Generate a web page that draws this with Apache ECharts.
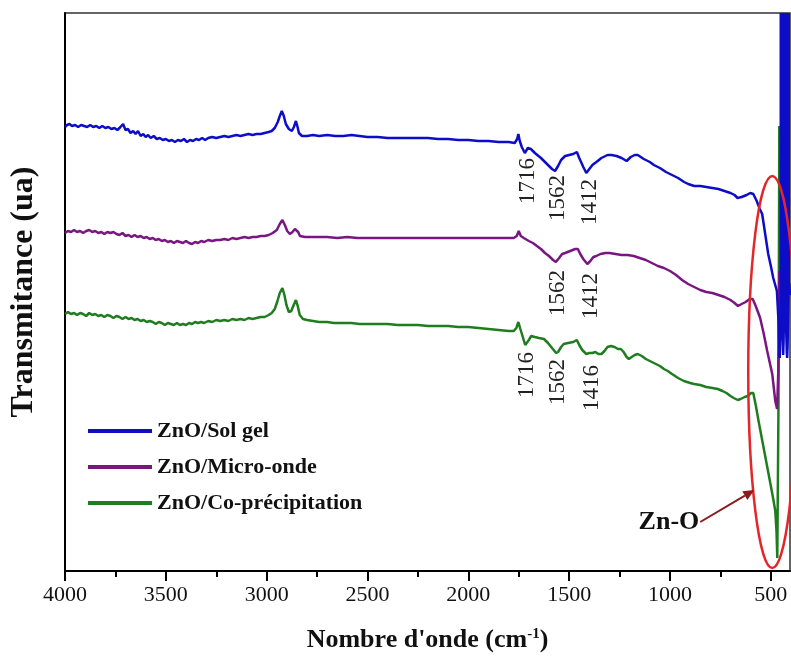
<!DOCTYPE html>
<html><head><meta charset="utf-8">
<script src="https://cdn.jsdelivr.net/npm/echarts@6/dist/echarts.min.js"></script>
<style>html,body{margin:0;padding:0;background:#fff}#c{width:791px;height:662px}</style>
</head><body><div id="c"></div>
<script>
const FONT = "'Liberation Serif', 'Times New Roman', serif";
const seriesNames = ['ZnO/Sol gel', 'ZnO/Micro-onde', 'ZnO/Co-précipitation'];
const seriesColors = ['#0d0dc8', '#7a1682', '#1f7d1f'];
const majorTicks = [4000, 3500, 3000, 2500, 2000, 1500, 1000, 500];
const minorTicks = [3750, 3250, 2750, 2250, 1750, 1250, 750];

const solGel = [[4000,444],[3990,446],[3978,447],[3965,445],[3950,446],[3935,444],[3920,446],[3905,445],[3890,444],[3875,446],[3860,444],[3845,445],[3830,443],[3815,445],[3800,443],[3785,444],[3770,442],[3755,443],[3740,441],[3725,444],[3712,447],[3700,441],[3688,442],[3675,438],[3662,440],[3650,437],[3638,440],[3625,435],[3612,437],[3600,434],[3588,436],[3575,433],[3560,435],[3545,432],[3530,433],[3515,431],[3500,432],[3485,430],[3470,431],[3455,429],[3440,431],[3425,430],[3410,432],[3395,429],[3380,431],[3365,430],[3350,432],[3335,431],[3320,433],[3305,431],[3290,433],[3270,434],[3250,433],[3230,434],[3210,435],[3190,434],[3170,435],[3150,436],[3130,435],[3110,436],[3090,437],[3070,436],[3050,437],[3030,437],[3010,438],[2990,439],[2975,440],[2960,443],[2945,449],[2935,455],[2925,460],[2915,455],[2905,447],[2890,442],[2875,440],[2865,444],[2855,450],[2848,445],[2840,438],[2825,435],[2800,435],[2770,436],[2740,435],[2700,436],[2660,435],[2620,435],[2580,436],[2540,435],[2500,434],[2450,434],[2400,433],[2350,433],[2300,433],[2250,433],[2200,433],[2150,432],[2100,432],[2050,431],[2000,431],[1950,430],[1900,430],[1850,429],[1800,429],[1770,428],[1758,432],[1752,437],[1745,430],[1735,424],[1720,418],[1705,423],[1690,422],[1670,418],[1640,413],[1610,407],[1585,402],[1570,400],[1555,405],[1540,411],[1520,415],[1500,416],[1480,417],[1462,419],[1450,413],[1430,404],[1415,398],[1400,402],[1385,406],[1365,409],[1340,413],[1310,416],[1290,416],[1265,415],[1240,413],[1215,410],[1195,414],[1175,416],[1160,416],[1130,412],[1100,409],[1080,406],[1050,403],[1020,399],[990,396],[960,393],[930,389],[910,387],[880,385],[850,385],[820,384],[790,383],[760,382],[730,380],[700,378],[680,376],[665,373],[645,374],[620,376],[602,378],[587,377],[570,370],[555,362],[543,357],[528,337],[513,317],[500,305],[488,293],[470,280],[462,250],[456,213]];
// Sol gel below 456 cm-1: saturated noisy band, lower envelope of the spikes (band fills up to the top)
const solGelBand = [[457,213],[455,222],[453,238],[451,258],[449,272],[447,282],[445,272],[443,250],[441,230],[439,216],[437,228],[435,255],[433,276],[431,290],[429,286],[427,272],[425,252],[423,234],[421,219],[419,213],[417,224],[415,248],[413,270],[411,283],[409,288],[407,282],[405,276]];

const microOnde = [[4000,338],[3985,340],[3970,339],[3955,341],[3940,339],[3925,340],[3910,338],[3895,340],[3880,341],[3865,339],[3850,340],[3835,338],[3820,339],[3805,337],[3790,339],[3775,338],[3760,339],[3745,337],[3730,336],[3715,338],[3700,335],[3685,336],[3670,334],[3655,336],[3640,334],[3625,335],[3610,333],[3595,334],[3580,332],[3565,333],[3550,331],[3535,332],[3520,330],[3505,331],[3490,329],[3475,330],[3460,328],[3445,330],[3430,329],[3415,328],[3400,330],[3385,328],[3370,327],[3355,329],[3340,328],[3325,330],[3310,329],[3290,331],[3270,330],[3250,331],[3230,331],[3210,332],[3190,331],[3170,333],[3150,332],[3130,333],[3110,334],[3090,333],[3070,334],[3050,334],[3030,335],[3010,335],[2990,336],[2970,338],[2950,341],[2935,347],[2922,351],[2910,346],[2898,340],[2885,337],[2872,339],[2860,342],[2852,344],[2844,339],[2835,335],[2810,334],[2780,334],[2740,334],[2700,334],[2650,333],[2600,334],[2550,333],[2500,333],[2450,333],[2400,333],[2350,333],[2300,333],[2200,333],[2100,333],[2000,333],[1900,333],[1800,333],[1775,333],[1760,335],[1750,340],[1740,335],[1725,333],[1700,330],[1680,328],[1660,325],[1640,322],[1620,318],[1600,315],[1580,311],[1566,309],[1550,313],[1535,317],[1520,318],[1495,320],[1470,322],[1457,322],[1445,317],[1430,312],[1410,307],[1395,310],[1380,314],[1365,315],[1345,317],[1320,318],[1300,318],[1270,317],[1240,316],[1210,316],[1180,315],[1150,313],[1120,311],[1090,308],[1060,305],[1030,303],[1000,300],[970,296],[940,291],[910,287],[880,284],[850,281],[820,279],[790,278],[760,276],[730,274],[700,271],[680,268],[663,265],[645,267],[625,269],[605,272],[590,272],[575,265],[553,253],[535,237],[518,220],[493,197],[478,170],[469,162],[463,200],[458,300]];

const coPrecipitation = [[4000,257],[3985,259],[3970,257],[3955,258],[3940,256],[3925,258],[3910,257],[3895,255],[3880,258],[3865,256],[3850,257],[3835,255],[3820,256],[3805,254],[3790,256],[3775,255],[3760,253],[3745,255],[3730,254],[3715,252],[3700,254],[3685,252],[3670,253],[3655,251],[3640,252],[3625,250],[3610,251],[3595,249],[3580,250],[3565,249],[3550,247],[3535,249],[3520,248],[3505,246],[3490,248],[3475,247],[3460,246],[3445,248],[3430,246],[3415,247],[3400,246],[3385,248],[3370,247],[3355,249],[3340,248],[3325,249],[3310,248],[3290,250],[3270,249],[3250,251],[3230,250],[3210,251],[3190,250],[3170,252],[3150,251],[3130,252],[3110,251],[3090,253],[3070,252],[3050,253],[3030,254],[3010,254],[2990,256],[2975,258],[2960,262],[2948,269],[2935,278],[2922,283],[2912,276],[2902,266],[2890,259],[2878,260],[2866,266],[2855,271],[2846,265],[2836,256],[2820,252],[2800,251],[2770,250],[2740,249],[2700,249],[2667,248],[2620,248],[2580,248],[2540,247],[2500,247],[2450,247],[2400,247],[2350,246],[2300,246],[2250,246],[2200,245],[2150,245],[2100,245],[2050,244],[2000,244],[1950,243],[1900,242],[1850,241],[1800,240],[1775,240],[1762,243],[1752,249],[1742,242],[1730,234],[1718,226],[1710,225],[1700,231],[1688,235],[1670,234],[1650,233],[1625,232],[1605,228],[1585,223],[1565,218],[1555,219],[1540,224],[1527,227],[1505,228],[1480,229],[1462,231],[1450,226],[1435,221],[1415,217],[1400,218],[1385,218],[1370,219],[1355,217],[1340,217],[1325,220],[1310,224],[1293,225],[1275,224],[1258,222],[1244,222],[1230,219],[1215,214],[1204,212],[1190,214],[1175,216],[1160,217],[1140,215],[1120,212],[1100,210],[1080,208],[1050,205],[1030,202],[1011,200],[990,197],[960,193],[931,190],[900,188],[881,187],[850,186],[820,184],[790,183],[763,182],[740,180],[720,178],[700,175],[684,173],[664,171],[650,172],[630,174],[614,175],[598,178],[587,178],[575,166],[560,149],[545,133],[530,117],[515,101],[500,85],[488,72],[478,60],[472,40],[468,13],[462,170],[458,445]];

// annotations: text, wavenumber, level
const annoText = ['1716', '1562', '1412', '1562', '1412', '1716', '1562', '1416'];
const annoX = [1705, 1556, 1397, 1556, 1392, 1710, 1556, 1387];
const annoY = [390, 373, 369, 278, 275, 196, 189, 183];
const ellipseCenter = [493, 199];
const ellipseHalf = [119, 196];
const arrowFrom = [850, 49];
const arrowTo = [582, 81];
const bandLabel = 'Zn-O';

const allSeries = [solGel, microOnde, coPrecipitation];
const chart = echarts.init(document.getElementById('c'), null, {renderer: 'canvas'});
const lineSeries = allSeries.map((d, i) => ({
  name: seriesNames[i], type: 'line', data: d, xAxisIndex: 0, yAxisIndex: 0,
  showSymbol: false, symbol: 'none', clip: true, z: 5 - i,
  color: seriesColors[i], lineStyle: {color: seriesColors[i], width: 2.5}
}));
lineSeries.push({
  name: seriesNames[0], type: 'line', data: solGelBand, xAxisIndex: 0, yAxisIndex: 0,
  showSymbol: false, symbol: 'none', clip: true, z: 5,
  color: seriesColors[0], lineStyle: {color: seriesColors[0], width: 2.5},
  areaStyle: {origin: 'end', color: seriesColors[0], opacity: 1}
});
const option = {
  animation: false,
  backgroundColor: '#fff',
  grid: {left: 64, right: 1, top: 13, bottom: 91, show: true, borderColor: '#333', borderWidth: 1.5, backgroundColor: 'transparent'},
  legend: {
    orient: 'vertical', left: 83, top: 415, icon: 'rect', itemWidth: 64, itemHeight: 4, itemGap: 14,
    textStyle: {fontSize: 22, fontWeight: 'bold', fontFamily: FONT, color: '#111', lineHeight: 22},
    data: seriesNames
  },
  xAxis: [{
    type: 'value', min: 405, max: 4000, inverse: true, position: 'bottom',
    axisLine: {show: true, onZero: false, lineStyle: {color: '#000', width: 2}},
    axisTick: {show: true, length: 10, customValues: majorTicks, lineStyle: {color: '#000', width: 2}},
    axisLabel: {customValues: majorTicks, formatter: v => String(v), fontSize: 22, fontFamily: FONT, color: '#111', margin: 13},
    splitLine: {show: false},
    name: "Nombre d'onde (cm{sup|-1})", nameLocation: 'middle', nameGap: 56,
    nameTextStyle: {fontSize: 26, fontWeight: 'bold', fontFamily: FONT, color: '#111',
      rich: {sup: {fontSize: 15, fontWeight: 'bold', fontFamily: FONT, color: '#111', verticalAlign: 'top'}}}
  }, {
    type: 'value', min: 405, max: 4000, inverse: true, position: 'bottom',
    axisLine: {show: false},
    axisTick: {show: true, length: 6, customValues: minorTicks, lineStyle: {color: '#000', width: 2}},
    axisLabel: {show: false}, splitLine: {show: false}
  }],
  yAxis: {
    type: 'value', min: 0, max: 558,
    axisLine: {show: true, lineStyle: {color: '#000', width: 2}},
    axisTick: {show: false}, axisLabel: {show: false}, splitLine: {show: false},
    name: 'Transmitance (ua)', nameLocation: 'middle', nameGap: 25,
    nameTextStyle: {fontSize: 32, fontWeight: 'bold', fontFamily: FONT, color: '#111'}
  },
  series: lineSeries
};
chart.setOption(option);

const px = p => chart.convertToPixel({xAxisIndex: 0, yAxisIndex: 0}, p);
const g = [];
annoText.forEach((t, i) => {
  const p = px([annoX[i], annoY[i]]);
  g.push({type: 'text', x: p[0], y: p[1], rotation: Math.PI / 2, z: 20,
    style: {text: t, fontSize: 23, fontFamily: FONT, fill: '#222', align: 'center', verticalAlign: 'middle'}});
});
const c = px(ellipseCenter);
const e1 = px([ellipseCenter[0] - ellipseHalf[0], ellipseCenter[1] + ellipseHalf[1]]);
g.push({type: 'ellipse', z: 30, shape: {cx: c[0], cy: c[1], rx: Math.abs(e1[0] - c[0]), ry: Math.abs(e1[1] - c[1])},
  style: {fill: 'none', stroke: '#e3262a', lineWidth: 2.5}});
const a0 = px(arrowFrom), a1 = px(arrowTo);
const ang = Math.atan2(a1[1] - a0[1], a1[0] - a0[0]);
const hl = 11, hw = 5;
const base = [a1[0] - hl * Math.cos(ang), a1[1] - hl * Math.sin(ang)];
g.push({type: 'line', z: 31, shape: {x1: a0[0], y1: a0[1], x2: base[0], y2: base[1]}, style: {stroke: '#8b1a1a', lineWidth: 2}});
g.push({type: 'polygon', z: 31, shape: {points: [a1,
  [base[0] + hw * Math.sin(ang), base[1] - hw * Math.cos(ang)],
  [base[0] - hw * Math.sin(ang), base[1] + hw * Math.cos(ang)]]}, style: {fill: '#8b1a1a'}});
g.push({type: 'text', x: a0[0] - 1, y: a0[1], z: 31,
  style: {text: bandLabel, fontSize: 26, fontWeight: 'bold', fontFamily: FONT, fill: '#111', align: 'right', verticalAlign: 'middle'}});
chart.setOption({graphic: g});
</script>
</body></html>
